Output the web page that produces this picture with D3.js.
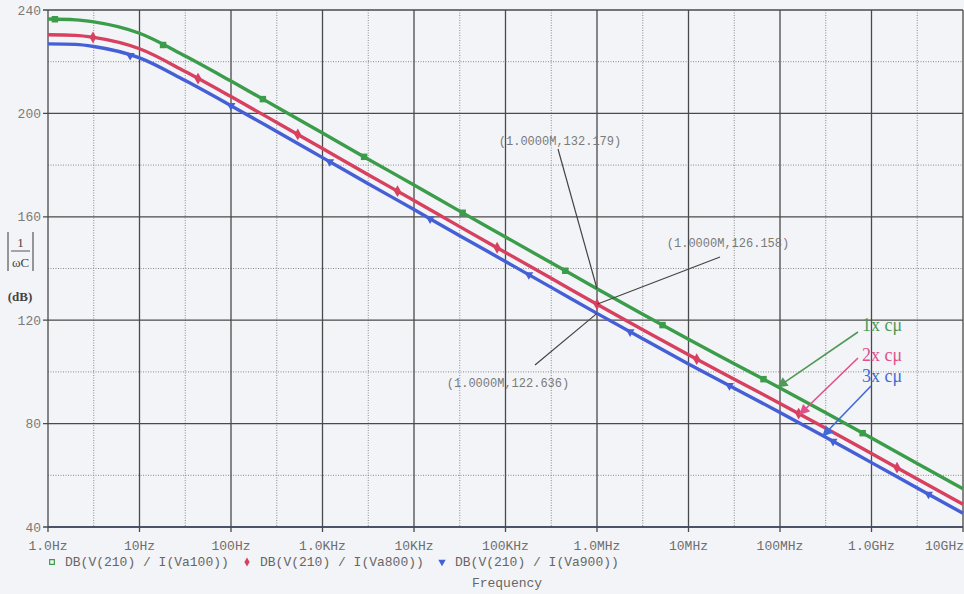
<!DOCTYPE html>
<html>
<head>
<meta charset="utf-8">
<script src="https://cdn.jsdelivr.net/npm/d3@7"></script>
<style>
  body { margin: 0; background: #f3f4f7; }
  svg { display: block; }
  .mono { font-family: "Liberation Mono", "DejaVu Sans Mono", monospace; }
  .serif { font-family: "Liberation Serif", "DejaVu Serif", serif; }
</style>
</head>
<body>
<div id="chart"></div>
<script>
(function() {

    // sample frequencies (Hz), half-decade steps
    var freqs = [1, 2, 3.16, 10, 31.6, 100, 316, 1e3, 3.16e3, 1e4, 3.16e4, 1e5, 3.16e5,
                 1e6, 3.16e6, 1e7, 3.16e7, 1e8, 3.16e8, 1e9, 3.16e9, 1e10];

    // DB(V(210) / I(Va100))  -> 1x c_mu
    var green = [236.5, 236.2, 235.4, 231.0, 222.2, 212.5, 202.5, 192.4, 182.3, 172.3, 162.2,
                 152.2, 142.2, 132.18, 122.3, 112.6, 103.2, 93.8, 84.2, 74.4, 64.6, 54.8];
    // DB(V(210) / I(Va800))  -> 2x c_mu
    var red = [230.4, 230.2, 229.4, 225.0, 216.2, 206.5, 196.5, 186.4, 176.3, 166.3, 156.2,
               146.2, 136.2, 126.16, 116.3, 106.6, 97.2, 87.8, 78.2, 68.4, 58.6, 48.8];
    // DB(V(210) / I(Va900))  -> 3x c_mu
    var blue = [226.9, 226.7, 225.9, 221.5, 212.7, 203.0, 193.0, 182.9, 172.8, 162.8, 152.7,
                142.7, 132.7, 122.64, 112.8, 103.1, 93.7, 84.3, 74.7, 64.9, 55.1, 45.3];

    // where the probe symbols sit on each trace
    var greenMarks = [1.19, 18.1, 223, 2.85e3, 3.4e4, 4.5e5, 5.2e6, 6.6e7, 8e8];
    var redMarks = [3.1, 43.6, 537, 6.6e3, 8.1e4, 1e6, 1.23e7, 1.6e8, 1.9e9];
    var blueMarks = [7.9, 100, 1.2e3, 1.5e4, 1.8e5, 2.3e6, 2.8e7, 3.8e8, 4.2e9];

    var xTicks = [1, 10, 100, 1e3, 1e4, 1e5, 1e6, 1e7, 1e8, 1e9, 1e10];
    var xTickLabels = ["1.0Hz", "10Hz", "100Hz", "1.0KHz", "10KHz", "100KHz",
                       "1.0MHz", "10MHz", "100MHz", "1.0GHz", "10GHz"];
    var yTicks = [40, 80, 120, 160, 200, 240];
    var yMinor = [60, 100, 140, 180, 220];

    var legendNames = ["DB(V(210) / I(Va100))", "DB(V(210) / I(Va800))", "DB(V(210) / I(Va900))"];
    var traceLabels = ["1x c\u03bc", "2x c\u03bc", "3x c\u03bc"];
    var arrowFreqs = [9.5e7, 1.65e8, 2.95e8];

    var cursorFreq = 1e6;
    var cursorValues = [132.179, 126.158, 122.636];
    var cursorLabels = ["(1.0000M,132.179)", "(1.0000M,126.158)", "(1.0000M,122.636)"];

    var colors = ["#3b9c4a", "#d7405e", "#4560d6"];
    var labelColors = ["#4f9a58", "#e0508a", "#3f6ad8"];

    var W = 964, H = 594;
    var margin = {top: 10, left: 48, right: 1, bottom: 67};

    var svg = d3.select("#chart")
            .append("svg")
            .attr("width", W)
            .attr("height", H);

    var x = d3.scaleLog()
              .domain([1, 1e10])
              .range([margin.left, W - margin.right]);

    var y = d3.scaleLinear()
              .domain([40, 240])
              .range([H - margin.bottom, margin.top]);

    /*
       Grid
    */
    var minorX = [];
    xTicks.slice(0, -1).forEach(function(d) { minorX.push(d * Math.sqrt(10)); });

    svg.append("g").selectAll("line")
       .data(minorX)
       .enter().append("line")
       .attr("x1", function(d) { return x(d); })
       .attr("x2", function(d) { return x(d); })
       .attr("y1", y(240)).attr("y2", y(40))
       .attr("stroke", "#8a8a8a")
       .attr("stroke-dasharray", "1,1.5")
       .attr("stroke-width", 1);

    svg.append("g").selectAll("line")
       .data(yMinor)
       .enter().append("line")
       .attr("x1", x(1)).attr("x2", x(1e10))
       .attr("y1", function(d) { return y(d); })
       .attr("y2", function(d) { return y(d); })
       .attr("stroke", "#8a8a8a")
       .attr("stroke-dasharray", "1,1.5")
       .attr("stroke-width", 1);

    svg.append("g").selectAll("line")
       .data(xTicks)
       .enter().append("line")
       .attr("x1", function(d) { return x(d); })
       .attr("x2", function(d) { return x(d); })
       .attr("y1", y(240)).attr("y2", y(40) + 5)
       .attr("stroke", "#4a4a4a")
       .attr("stroke-width", 1.3);

    svg.append("g").selectAll("line")
       .data(yTicks)
       .enter().append("line")
       .attr("x1", x(1) - 5).attr("x2", x(1e10))
       .attr("y1", function(d) { return y(d); })
       .attr("y2", function(d) { return y(d); })
       .attr("stroke", "#4a4a4a")
       .attr("stroke-width", 1.3);

    /*
       Tick labels
    */
    svg.append("g").selectAll("text")
       .data(xTicks)
       .enter().append("text")
       .attr("class", "mono")
       .attr("x", function(d, i) { return i == xTicks.length - 1 ? W : x(d); })
       .attr("y", y(40) + 23)
       .attr("text-anchor", function(d, i) { return i == xTicks.length - 1 ? "end" : "middle"; })
       .attr("font-size", 13)
       .attr("fill", "#6e6e6e")
       .text(function(d, i) { return xTickLabels[i]; });

    svg.append("g").selectAll("text")
       .data(yTicks)
       .enter().append("text")
       .attr("class", "mono")
       .attr("x", x(1) - 7)
       .attr("y", function(d) { return y(d); })
       .attr("dy", "0.35em")
       .attr("text-anchor", "end")
       .attr("font-size", 13)
       .attr("fill", "#7a7a7a")
       .text(function(d) { return d; });

    /*
       Y label |1/wC| (dB)
    */
    var ylab = svg.append("g").attr("class", "serif").attr("fill", "#444");
    ylab.append("line").attr("x1", 8).attr("x2", 8).attr("y1", 232).attr("y2", 271)
        .attr("stroke", "#555").attr("stroke-width", 1.2);
    ylab.append("line").attr("x1", 33).attr("x2", 33).attr("y1", 232).attr("y2", 271)
        .attr("stroke", "#555").attr("stroke-width", 1.2);
    ylab.append("line").attr("x1", 11).attr("x2", 30).attr("y1", 251).attr("y2", 251)
        .attr("stroke", "#555").attr("stroke-width", 1);
    ylab.append("text").attr("x", 20.5).attr("y", 247).attr("text-anchor", "middle")
        .attr("font-size", 13).text("1");
    ylab.append("text").attr("x", 20.5).attr("y", 267).attr("text-anchor", "middle")
        .attr("font-size", 13).text("\u03c9C");
    ylab.append("text").attr("x", 20).attr("y", 301).attr("text-anchor", "middle")
        .attr("font-size", 13).attr("font-weight", "bold").text("(dB)");

    /*
       Traces
    */
    var series = [green, red, blue];
    var marks = [greenMarks, redMarks, blueMarks];

    var line = d3.line()
                 .x(function(d) { return x(d[0]); })
                 .y(function(d) { return y(d[1]); })
                 .curve(d3.curveMonotoneX);

    function valueAt(s, f) {
        var lf = Math.log10(f);
        for (var i = 1; i < freqs.length; i++) {
            if (f <= freqs[i]) {
                var a = Math.log10(freqs[i - 1]), b = Math.log10(freqs[i]);
                var t = (lf - a) / (b - a);
                return s[i - 1] + t * (s[i] - s[i - 1]);
            }
        }
        return s[s.length - 1];
    }

    var symbols = [d3.symbolSquare, d3.symbolDiamond, d3.symbolTriangle];
    var symSize = [42, 40, 34];

    series.forEach(function(s, k) {
        svg.append("path")
           .datum(freqs.map(function(f, i) { return [f, s[i]]; }))
           .attr("d", line)
           .attr("fill", "none")
           .attr("stroke", colors[k])
           .attr("stroke-width", 3.4)
           .attr("stroke-linejoin", "round");

        svg.append("g").selectAll("path")
           .data(marks[k])
           .enter().append("path")
           .attr("d", d3.symbol().type(symbols[k]).size(symSize[k]))
           .attr("transform", function(f) {
               return "translate(" + x(f) + "," + y(valueAt(s, f)) + ")" + (k == 2 ? " rotate(180)" : "");
           })
           .attr("fill", colors[k]);
    });

    // bottom axis line drawn on top (blue-ish in scan)
    svg.append("line")
       .attr("x1", x(1)).attr("x2", x(1e10))
       .attr("y1", y(40)).attr("y2", y(40))
       .attr("stroke", "#3c4a66").attr("stroke-width", 1.3);

    /*
       Cursor annotations at 1 MHz
    */
    var cursorText = [[560, 145], [728, 247], [508, 387]];
    var cursorFrom = [[558, 149], [720, 257], [535, 365]];

    cursorValues.forEach(function(v, i) {
        svg.append("line")
           .attr("x1", cursorFrom[i][0]).attr("y1", cursorFrom[i][1])
           .attr("x2", x(cursorFreq)).attr("y2", y(v))
           .attr("stroke", "#444").attr("stroke-width", 1.2);
        svg.append("text")
           .attr("class", "mono")
           .attr("x", cursorText[i][0]).attr("y", cursorText[i][1])
           .attr("text-anchor", "middle")
           .attr("font-size", 12)
           .attr("fill", "#7a7a7a")
           .text(cursorLabels[i]);
    });

    /*
       Trace labels with arrows
    */
    var defs = svg.append("defs");
    colors.forEach(function(c, i) {
        defs.append("marker")
            .attr("id", "arrow" + i)
            .attr("viewBox", "0 0 10 10")
            .attr("refX", 9).attr("refY", 5)
            .attr("markerWidth", 7.5).attr("markerHeight", 6.5)
            .attr("orient", "auto")
            .append("path")
            .attr("d", "M0,0 L10,5 L0,10 z")
            .attr("fill", labelColors[i]);
    });

    var labelPos = [[862, 331], [862, 361], [862, 382]];
    var tailPos = [[858, 332], [858, 358], [871, 386]];

    traceLabels.forEach(function(t, i) {
        svg.append("line")
           .attr("x1", tailPos[i][0]).attr("y1", tailPos[i][1])
           .attr("x2", x(arrowFreqs[i])).attr("y2", y(valueAt(series[i], arrowFreqs[i])))
           .attr("stroke", labelColors[i])
           .attr("stroke-width", 1.6)
           .attr("marker-end", "url(#arrow" + i + ")");
        svg.append("text")
           .attr("class", "serif")
           .attr("x", labelPos[i][0]).attr("y", labelPos[i][1])
           .attr("font-size", 18)
           .attr("fill", labelColors[i])
           .text(t);
    });

    /*
       Legend + x title
    */
    var legend = svg.append("g").attr("class", "mono");
    var legX = [52, 247, 442];
    legendNames.forEach(function(n, i) {
        legend.append("path")
              .attr("d", d3.symbol().type(symbols[i]).size(i == 0 ? 22 : 24))
              .attr("transform", "translate(" + legX[i] + ",562)" + (i == 2 ? " rotate(180)" : ""))
              .attr("fill", i == 0 ? "none" : colors[i])
              .attr("stroke", i == 0 ? colors[i] : "none")
              .attr("stroke-width", 1.2);
        legend.append("text")
              .attr("x", legX[i] + 13).attr("y", 566)
              .attr("font-size", 13)
              .attr("fill", "#666")
              .text(n);
    });

    svg.append("text")
       .attr("class", "mono")
       .attr("x", 507).attr("y", 587)
       .attr("text-anchor", "middle")
       .attr("font-size", 13)
       .attr("fill", "#666")
       .text("Frequency");

})();
</script>
</body>
</html>
